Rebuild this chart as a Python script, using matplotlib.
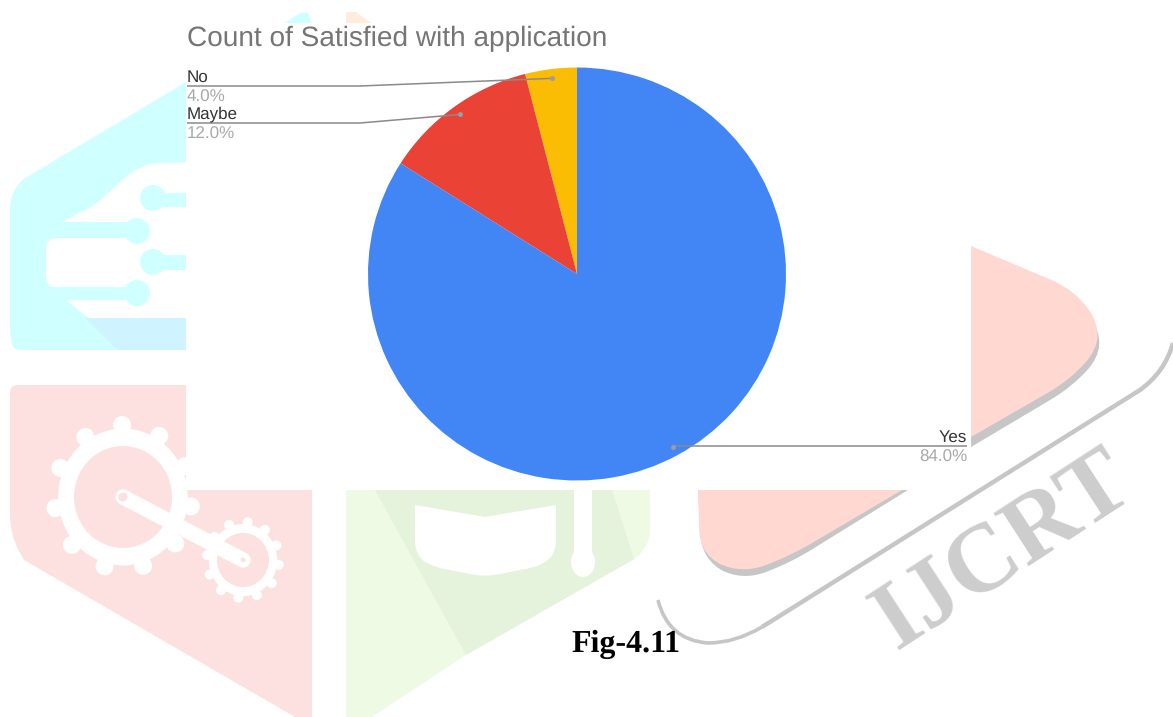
import numpy as np
import matplotlib
matplotlib.use("Agg")
import matplotlib.pyplot as plt
from matplotlib.path import Path
from matplotlib.patches import PathPatch, Polygon, Rectangle, Ellipse

plt.rcParams["text.hinting"] = "no_hinting"
plt.rcParams["text.hinting_factor"] = 1

categories = ["No", "Maybe", "Yes"]
values = [4.0, 12.0, 84.0]
colors = ["#fbbc04", "#ea4335", "#4285f4"]
title = "Count of Satisfied with application"
caption = "Fig-4.11"

W, H = 1173, 717
fig = plt.figure(figsize=(W / 100, H / 100), dpi=100, facecolor="white")


def px_axes(z):
    a = fig.add_axes([0, 0, 1, 1], zorder=z)
    a.set_xlim(0, W)
    a.set_ylim(H, 0)
    a.axis("off")
    a.patch.set_alpha(0)
    return a


def smooth(pts):
    """Polygon whose vertices given as (x, y, r) get rounded by r pixels."""
    n = len(pts)
    verts, codes = [], []
    for i, p in enumerate(pts):
        x, y, r = p if len(p) == 3 else (*p, 0)
        P = np.array([x, y], float)
        A = np.array(pts[i - 1][:2], float)
        B = np.array(pts[(i + 1) % n][:2], float)
        if r > 0:
            a = P + (A - P) / np.linalg.norm(A - P) * r
            b = P + (B - P) / np.linalg.norm(B - P) * r
            first = not verts
            verts += [tuple(a), tuple(P), tuple(b)]
            codes += [Path.MOVETO if first else Path.LINETO, Path.CURVE3, Path.CURVE3]
        else:
            verts.append(tuple(P))
            codes.append(Path.LINETO if len(verts) > 1 else Path.MOVETO)
    verts.append(verts[0])
    codes.append(Path.CLOSEPOLY)
    return Path(verts, codes)


bg = px_axes(0)
CY = "#d0ffff"
PK = "#fde1e1"
GR = "#eefae3"
GR2 = "#e5f3dc"
SA = "#ffd9d1"
SH = "#c6c6c6"


def fill(pts, color, z=1):
    bg.add_patch(PathPatch(smooth(pts), fc=color, ec="none", zorder=z))


# ---- watermark: cyan block
fill([(186, 82), (22, 180, 0), (10, 195, 14), (10, 340, 10), (14, 350, 6), (186, 350)], CY, 1)
fill([(85, 318), (186, 318), (186, 350), (118, 350)], "#cff3ff", 2)
fill([(186, 162), (140, 164, 20), (95, 205, 8), (62, 222), (137, 222), (137, 238),
      (46, 238, 12), (46, 285, 8), (52, 287), (137, 287), (137, 300), (66, 300), (88, 318), (186, 318)],
     "white", 3)
for x0, y0, x1, y1 in [(153, 193, 186, 207), (153, 255, 186, 270)]:
    bg.add_patch(Rectangle((x0, y0), x1 - x0, y1 - y0, fc=CY, ec="none", zorder=4))
for gx, gy in [(153, 198), (137, 231), (153, 262), (137, 293)]:
    bg.add_patch(Ellipse((gx, gy), 26, 26, fc=CY, ec="none", zorder=4))

# ---- watermark: pink block with gears
fill([(10, 385, 8), (186, 385), (186, 490), (312, 490), (312, 717), (295, 717),
      (24, 560), (10, 535, 20)], PK, 1)


def gear(gx, gy, r_out, r_in, teeth, tooth_r):
    bg.add_patch(Ellipse((gx, gy), 2 * r_out * .9, 2 * r_out * .95, fc="white", ec="none", zorder=3))
    for a in np.linspace(0, 2 * np.pi, teeth, endpoint=False) + .13:
        bg.add_patch(Ellipse((gx + r_out * .95 * np.cos(a), gy + r_out * np.sin(a)), 2 * tooth_r, 2 * tooth_r,
                             fc="white", ec="none", zorder=3))
    bg.add_patch(Ellipse((gx, gy), 2 * r_in, 2 * r_in * 1.04, fc=PK, ec="none", zorder=4))


gear(123, 497, 72, 49, 11, 9)
gear(243, 560, 38, 26, 12, 5)
bg.plot([123, 243], [497, 560], color="white", lw=11, solid_capstyle="round", zorder=5)
bg.add_patch(Ellipse((123, 497), 9, 9, fc=PK, ec="none", zorder=6))
bg.add_patch(Ellipse((243, 560), 5, 5, fc=PK, ec="none", zorder=6))

# ---- watermark: green block
fill([(346, 490), (650, 490), (650, 540, 10), (638, 557, 4), (466, 655), (372, 717), (346, 717)], GR, 1)
fill([(375, 490), (612, 490), (634, 559), (466, 655)], GR2, 2)
fill([(415, 505), (485, 517), (556, 505), (556, 555, 14), (540, 566, 12), (485, 577, 14), (430, 566, 12),
      (415, 555, 14)], "white", 3)
bg.add_patch(Rectangle((574, 490), 18, 72, fc="white", ec="none", zorder=3))
bg.add_patch(Ellipse((583, 562), 24, 30, fc="white", ec="none", zorder=3))

# ---- watermark: salmon blocks and grey band
fill([(971, 251), (1075, 297, 25), (1110, 345, 34), (1072, 387, 24), (971, 447)], SH, 1)
fill([(971, 246), (1075, 290, 25), (1108, 337, 34), (1070, 380, 24), (971, 437)], SA, 2)
fill([(698, 490), (908, 490), (790, 563, 25), (742, 581, 25), (702, 560, 25)], SH, 1)
fill([(698, 490), (902, 490), (790, 556, 25), (742, 574, 25), (700, 555, 25)], SA, 2)
band = Path([(762, 627), (1140, 390), (1165, 372), (1173, 343)],
            [Path.MOVETO, Path.LINETO, Path.CURVE3, Path.CURVE3])
bg.add_patch(PathPatch(band, fc="none", ec=SH, lw=3.2, zorder=1))
hook = Path([(658, 600), (668, 640), (708, 643), (735, 643), (762, 627)],
            [Path.MOVETO, Path.CURVE3, Path.CURVE3, Path.CURVE3, Path.CURVE3])
bg.add_patch(PathPatch(hook, fc="none", ec=SH, lw=2.6, zorder=1))
bg.text(1004, 552, "IJCRT", family="Liberation Serif", weight="bold", fontsize=70, color="#cdcdcd",
        rotation=33, rotation_mode="anchor", ha="center", va="center", zorder=1)

# ---- top slivers and white chart panel
bg.add_patch(Polygon([(285, 23), (300, 13), (308, 13), (312, 23)], fc=CY, ec="none", zorder=6))
bg.add_patch(Polygon([(346, 23), (346, 12), (356, 12), (371, 23)], fc="#ffecdc", ec="none", zorder=6))
bg.add_patch(Rectangle((186, 23), 785, 467, fc="white", ec="none", zorder=7))

# ---- pie
cx, cy, rx, ry = 577.0, 274.0, 209.0, 206.5
ax = fig.add_axes([(cx - rx) / W, 1 - (cy + ry) / H, 2 * rx / W, 2 * ry / H], zorder=1)
ax.pie(values, colors=colors, startangle=90, counterclock=True, radius=1,
       wedgeprops=dict(linewidth=0))
ax.set_aspect("auto")
ax.set_xlim(-1, 1)
ax.set_ylim(-1, 1)

# ---- labels and leaders
ov = px_axes(2)
LC = "#8a8a8a"
fr = np.cumsum([0] + values[:-1]) + np.array(values) / 2
ang = np.deg2rad(fr / sum(values) * 360)
dots_x = cx - 0.95 * rx * np.sin(ang)
dots_y = cy - 0.955 * ry * np.cos(ang)

label_y = {"No": (86, 77, 97), "Maybe": (123, 114, 134), "Yes": (446, 437, 457)}
for i, c in enumerate(categories):
    ly, ty, py = label_y[c]
    if c == "Yes":
        xs, ys = [dots_x[i], dots_x[i] + 15, 967], [dots_y[i] - 1, ly, ly]
        ha, tx = "right", 967
    else:
        xs, ys = [187, 360, dots_x[i]], [ly, ly, dots_y[i]]
        ha, tx = "left", 187
    ov.plot(xs, ys, color=LC, lw=1.1, solid_capstyle="butt")
    ov.plot([dots_x[i]], [dots_y[i]], "o", ms=3.6, color="#9a9ca6", mec="none")
    ov.text(tx, ty, c, ha=ha, va="center", family="Liberation Sans", fontsize=11.9, color="#333333")
    ov.text(tx, py, f"{values[i]:.1f}%", ha=ha, va="center", family="Liberation Sans", fontsize=11.9,
            color="#a8a8a8")

ov.text(187, 38.5, title, ha="left", va="center", family="Liberation Sans", fontsize=19.88, color="#757575")
ov.text(625.5, 644, caption, ha="center", va="center", family="Liberation Serif", weight="bold",
        fontsize=23, color="black")

fig.savefig("out.png", dpi=100, facecolor="white")
